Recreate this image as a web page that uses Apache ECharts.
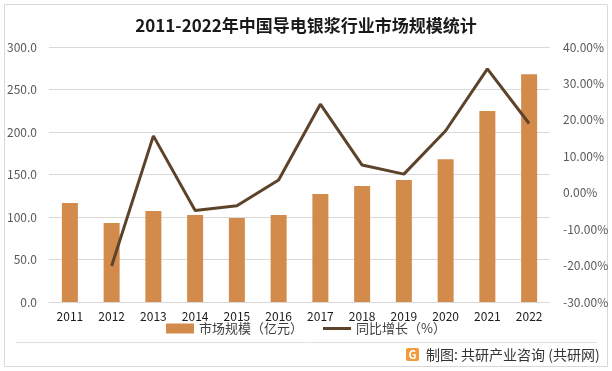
<!DOCTYPE html>
<html><head><meta charset="utf-8">
<script src="https://cdn.jsdelivr.net/npm/echarts@6/dist/echarts.min.js"></script>
<style>html,body{margin:0;padding:0;background:#fff}#c{width:612px;height:371px}</style>
</head><body><div id="c"></div>
<script>
const categories = ['2011','2012','2013','2014','2015','2016','2017','2018','2019','2020','2021','2022'];
const marketSize = [116.5, 93, 107, 102.4, 98.8, 102.4, 127, 136.5, 143.5, 168, 224.7, 268];
const growth = [null, -20.1, 15.6, -4.9, -3.6, 3.5, 24.3, 7.6, 5.1, 17, 34, 19];
const leftTicks = {min: 0, max: 300, interval: 50};
const rightTicks = {min: -30, max: 40, interval: 10};
const seriesNames = ['市场规模（亿元）', '同比增长（%）'];
const titleText = '2011-2022年中国导电银浆行业市场规模统计';
const footerText = '制图: 共研产业咨询 (共研网)';

const font = '"Noto Sans CJK SC","Noto Sans",sans-serif';
const chart = echarts.init(document.getElementById('c'));
chart.setOption({
  animation: false,
  textStyle: {fontFamily: font},
  title: {text: titleText, left: 'center', top: 12,
    textStyle: {fontSize: 17, fontWeight: 'bold', color: '#1a1a1a', fontFamily: font}},
  grid: {left: 49, right: 62, top: 47, bottom: 69},
  legend: {bottom: 31, itemGap: 20, itemWidth: 28, itemHeight: 10,
    textStyle: {fontSize: 13, color: '#404040'},
    data: [{name: seriesNames[0], icon: 'rect'},
           {name: seriesNames[1], icon: 'path://M0,0 L28,0 L28,3 L0,3 Z'}]},
  xAxis: {type: 'category', data: categories,
    axisLine: {show: true, lineStyle: {color: '#d9d9d9'}}, axisTick: {show: false},
    axisLabel: {color: '#1a1a1a', fontSize: 12, margin: 8}},
  yAxis: [
    {type: 'value', min: leftTicks.min, max: leftTicks.max, interval: leftTicks.interval,
      axisLabel: {color: '#595959', fontSize: 12, margin: 12, formatter: v => v.toFixed(1)},
      splitLine: {lineStyle: {color: '#d9d9d9'}}, axisLine: {show: false}},
    {type: 'value', min: rightTicks.min, max: rightTicks.max, interval: rightTicks.interval,
      axisLabel: {color: '#595959', fontSize: 12, margin: 13, formatter: v => v.toFixed(2) + '%'},
      splitLine: {show: false}, axisLine: {show: false}}
  ],
  series: [
    {name: seriesNames[0], type: 'bar', data: marketSize, barWidth: 16,
      itemStyle: {color: '#D38B4C'}},
    {name: seriesNames[1], type: 'line', yAxisIndex: 1, data: growth, symbol: 'none',
      lineStyle: {color: '#5E432B', width: 3}, itemStyle: {color: '#5E432B'}}
  ],
  graphic: [
    {type: 'rect', shape: {x: 4.5, y: 4.5, width: 603, height: 362},
      style: {fill: 'none', stroke: '#d9d9d9', lineWidth: 1}, silent: true},
    {type: 'line', shape: {x1: 16, y1: 342.5, x2: 597, y2: 342.5},
      style: {stroke: '#e0e0e0', lineWidth: 1}},
    {type: 'rect', shape: {x: 406, y: 348, width: 13, height: 13, r: 2},
      style: {fill: '#F39A3C'}},
    {type: 'text', x: 412.5, y: 354.5, style: {text: 'G', fill: '#fff', fontSize: 11, fontWeight: 'bold',
      align: 'center', verticalAlign: 'middle', fontFamily: font}},
    {type: 'text', x: 426, y: 355, style: {text: footerText, fill: '#333', fontSize: 14,
      verticalAlign: 'middle', fontFamily: font}}
  ]
});
</script></body></html>
